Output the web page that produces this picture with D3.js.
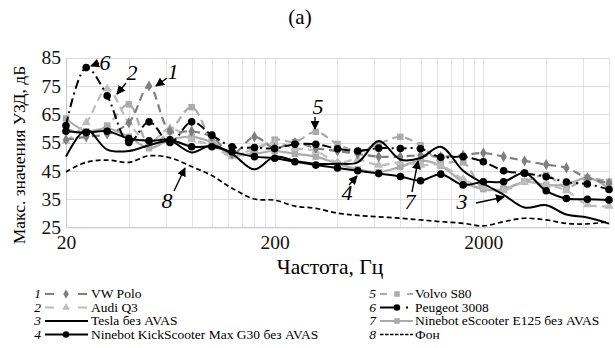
<!DOCTYPE html>
<html lang="ru">
<head>
<meta charset="UTF-8">
<title>Chart (a)</title>
<script src="https://d3js.org/d3.v7.min.js"></script>
<style>
  body { margin: 0; background: #fff; }
  svg text { font-family: "Liberation Serif", "DejaVu Serif", "Times New Roman", serif !important; }
</style>
</head>
<body>
<script>
// third-octave band centres, Hz
var freqs = [20, 25, 31.5, 40, 50, 63, 80, 100, 125, 160, 200, 250, 315, 400, 500,
             630, 800, 1000, 1250, 1600, 2000, 2500, 3150, 4000, 5000, 6300, 8000];

var vwPolo   = [56, 57, 58, 62, 75, 59, 59, 57, 51, 57, 53, 55, 53, 52, 51,
                50, 50, 50.5, 50, 50.5, 51.3, 50, 48.5, 47.2, 46, 42.5, 40.6];
var audiQ3   = [55.5, 62, 74, 62, 55, 60, 56, 54, 50, 53, 55, 53, 52, 48, 49,
                47, 48, 47, 47, 42, 39, 38, 41, 40, 38, 33, 32.5];
var tesla    = [50, 59.5, 52.5, 52, 54, 55.5, 51.5, 54, 51, 45.5, 50, 48.5, 47.5, 47.5, 48,
                55.5, 49, 49.5, 53.5, 45, 40.5, 36.5, 32, 32.8, 29.5, 28.5, 26.3];
var kickScooter = [59, 58.5, 59, 56.4, 55.6, 56, 53.5, 53.5, 51.7, 50, 49.4, 48.2, 47, 46, 45,
                44, 43, 41.5, 43.8, 40, 41.1, 41.1, 44.2, 37.9, 35.2, 34.9, 34.7];
var volvoS80 = [60, 58, 61, 68.5, 54.5, 59, 67.5, 56, 51, 52, 56, 55.2, 58.8, 54.5, 52,
                54.5, 57, 54, 48, 48, 38.7, 38.7, 41.1, 43.5, 39.1, 42.3, 41.1];
var peugeot  = [61, 81.5, 71.5, 55, 62.3, 55, 62.3, 57.6, 53.5, 53.2, 52.9, 54.4, 54.4, 52.8, 52,
                53, 52.9, 52.8, 49.8, 50, 48.2, 45, 44.1, 42.9, 41, 40.3, 38.4];
var e125     = [63.5, 59, 60, 57, 53, 56, 57, 55, 50.5, 51, 52, 51, 50, 47.5, 45.5,
                44.5, 46.4, 48.6, 46.8, 41, 38.5, 38.5, 41.1, 40, 40, 42.6, 38.8];
var fon      = [44.6, 48, 48.8, 48, 50.3, 49.6, 46.5, 43.3, 38.8, 35, 34.6, 32.5, 31.7, 30, 29.2,
                28.7, 28.2, 27.6, 27, 26.4, 25.5, 27, 28.2, 27.6, 26.4, 26.2, 27];

var yTicks = [25, 35, 45, 55, 65, 75, 85];
var xTicks = [20, 200, 2000];
var seriesNames = ["VW Polo", "Audi Q3", "Tesla без AVAS", "Ninebot KickScooter Max G30 без AVAS",
                   "Volvo S80", "Peugeot 3008", "Ninebot eScooter E125 без AVAS", "Фон"];

var w = 615, h = 348;
var plotL = 66, plotR = 609, plotT = 57.7, plotB = 227.3;
var serif = "Liberation Serif, DejaVu Serif, serif";

var svg = d3.select("body").append("svg")
    .attr("width", w)
    .attr("height", h)
    .attr("font-family", serif);

var defs = svg.append("defs");
defs.append("marker")
    .attr("id", "arr")
    .attr("viewBox", "0 0 10 10")
    .attr("refX", 9).attr("refY", 5)
    .attr("markerWidth", 9).attr("markerHeight", 9)
    .attr("markerUnits", "userSpaceOnUse")
    .attr("orient", "auto")
    .append("path").attr("d", "M0,0 L10,5 L0,10 Z").attr("fill", "#000");

var x = d3.scaleLog().domain([20, 8000]).range([plotL, plotR]);
var y = d3.scaleLinear().domain([25, 85]).range([plotB, plotT]);

// grid: Excel-style log minor lines
var minor = [];
[20, 200, 2000].forEach(function (b) {
    for (var k = 1; k <= 9; k++) {
        var v = b * k;
        if (v <= 8000) minor.push(v);
    }
});

svg.append("g").selectAll("line")
    .data(minor)
    .enter().append("line")
    .attr("x1", function (d) { return Math.round(x(d)) + 0.5; })
    .attr("x2", function (d) { return Math.round(x(d)) + 0.5; })
    .attr("y1", plotT).attr("y2", plotB)
    .attr("stroke", "#e3e3e3").attr("stroke-width", 1);

svg.append("g").selectAll("line")
    .data(yTicks)
    .enter().append("line")
    .attr("x1", plotL).attr("x2", plotR)
    .attr("y1", function (d) { return Math.round(y(d)) + 0.5; })
    .attr("y2", function (d) { return Math.round(y(d)) + 0.5; })
    .attr("stroke", "#dcdcdc").attr("stroke-width", 1);

// axes
var yAxis = d3.axisLeft(y).tickValues(yTicks).tickSize(0).tickPadding(5);
var gy = svg.append("g").attr("transform", "translate(" + plotL + ",0)").call(yAxis);
gy.attr("font-family", serif);
gy.select(".domain").attr("stroke", "#c8c8c8");
gy.selectAll("text").attr("font-size", "19.5px").attr("fill", "#111");

var xAxis = d3.axisBottom(x).tickValues(xTicks).tickFormat(d3.format("d")).tickSize(0).tickPadding(8);
var gx = svg.append("g").attr("transform", "translate(0," + plotB + ")").call(xAxis);
gx.attr("font-family", serif);
gx.select(".domain").attr("stroke", "#c8c8c8");
gx.selectAll("text").attr("font-size", "19.5px").attr("fill", "#111");

svg.append("text").text("(a)")
    .attr("x", 300).attr("y", 24)
    .attr("text-anchor", "middle").attr("font-size", "21px");

svg.append("text").text("Частота, Гц")
    .attr("x", 330).attr("y", 274)
    .attr("text-anchor", "middle").attr("font-size", "21.5px");

svg.append("text").text("Макс. значения УЗД, дБ")
    .attr("transform", "translate(25,155) rotate(-90)")
    .attr("text-anchor", "middle").attr("font-size", "17.5px");

// series styling
var styles = [
    { data: vwPolo, color: "#7f7f7f", dash: "8,5", width: 2.2, marker: "diamond" },
    { data: audiQ3, color: "#bdbdbd", dash: "8,5", width: 2.2, marker: "triangle" },
    { data: tesla, color: "#000", dash: null, width: 2, marker: null },
    { data: kickScooter, color: "#000", dash: null, width: 2, marker: "circle" },
    { data: volvoS80, color: "#ababab", dash: "8,5", width: 2.2, marker: "square" },
    { data: peugeot, color: "#000", dash: "9,4,2,4", width: 2, marker: "circle" },
    { data: e125, color: "#ababab", dash: null, width: 2.2, marker: "square" },
    { data: fon, color: "#000", dash: "5,3", width: 1.7, marker: null }
];

var line = d3.line()
    .x(function (d) { return x(d[0]); })
    .y(function (d) { return y(d[1]); })
    .curve(d3.curveCatmullRom.alpha(0.5));

var symbols = {
    diamond: d3.symbol().type(d3.symbolDiamond).size(36),
    triangle: d3.symbol().type(d3.symbolTriangle).size(36),
    square: d3.symbol().type(d3.symbolSquare).size(42),
    circle: d3.symbol().type(d3.symbolCircle).size(45)
};

var drawOrder = [7, 6, 4, 1, 0, 2, 3, 5];
drawOrder.forEach(function (i) {
    var s = styles[i];
    var pts = freqs.map(function (f, j) { return [f, s.data[j]]; });
    svg.append("path")
        .datum(pts)
        .attr("d", line)
        .attr("fill", "none")
        .attr("stroke", s.color)
        .attr("stroke-width", s.width)
        .attr("stroke-dasharray", s.dash);
    if (s.marker) {
        svg.append("g").selectAll("path")
            .data(pts)
            .enter().append("path")
            .attr("d", symbols[s.marker])
            .attr("transform", function (d) { return "translate(" + x(d[0]) + "," + y(d[1]) + ")"; })
            .attr("fill", s.color);
    }
});

// numbered callouts
var callouts = [
    { n: "1", tx: 173, ty: 79, x1: 167, y1: 78, x2: 156, y2: 86 },
    { n: "2", tx: 132, ty: 80, x1: 126, y1: 83, x2: 117, y2: 94 },
    { n: "6", tx: 105, ty: 70, x1: 99, y1: 63, x2: 91, y2: 66 },
    { n: "5", tx: 318, ty: 114, x1: 315, y1: 117, x2: 315, y2: 129 },
    { n: "8", tx: 167, ty: 208, x1: 174, y1: 191, x2: 185, y2: 168 },
    { n: "4", tx: 347, ty: 200, x1: 349, y1: 185, x2: 357, y2: 176 },
    { n: "7", tx: 410, ty: 209, x1: 412, y1: 192, x2: 418, y2: 161 },
    { n: "3", tx: 462, ty: 209, x1: 476, y1: 203, x2: 504, y2: 197 }
];
callouts.forEach(function (c) {
    svg.append("line")
        .attr("x1", c.x1).attr("y1", c.y1).attr("x2", c.x2).attr("y2", c.y2)
        .attr("stroke", "#000").attr("stroke-width", 1.4)
        .attr("marker-end", "url(#arr)");
    svg.append("text").text(c.n)
        .attr("x", c.tx).attr("y", c.ty)
        .attr("text-anchor", "middle")
        .attr("font-size", "22px").attr("font-style", "italic");
});

// legend
var legPos = [
    { nx: 41, sx: 45, ex: 88, mx: 66, lx: 91, y: 294 },
    { nx: 41, sx: 45, ex: 88, mx: 66, lx: 91, y: 307.5 },
    { nx: 41, sx: 45, ex: 88, mx: 66, lx: 91, y: 321 },
    { nx: 41, sx: 45, ex: 88, mx: 66, lx: 91, y: 334.5 },
    { nx: 376, sx: 380, ex: 413, mx: 397, lx: 415, y: 294 },
    { nx: 376, sx: 380, ex: 413, mx: 397, lx: 415, y: 307.5 },
    { nx: 376, sx: 380, ex: 413, mx: 397, lx: 415, y: 321 },
    { nx: 376, sx: 380, ex: 413, mx: 397, lx: 415, y: 334.5 }
];
var legDash = ["9,24", "9,24", null, null, "7,20", "20,6,2,30", null, "3.5,1.5"];

styles.forEach(function (s, i) {
    var p = legPos[i];
    var g = svg.append("g");
    g.append("text").text(i + 1)
        .attr("x", p.nx).attr("y", p.y + 4)
        .attr("text-anchor", "end")
        .attr("font-size", "13.5px").attr("font-style", "italic");
    g.append("line")
        .attr("x1", p.sx).attr("x2", p.ex)
        .attr("y1", p.y).attr("y2", p.y)
        .attr("stroke", s.color).attr("stroke-width", i == 7 ? 1.4 : 1.8)
        .attr("stroke-dasharray", legDash[i]);
    if (s.marker) {
        g.append("path")
            .attr("d", symbols[s.marker])
            .attr("transform", "translate(" + p.mx + "," + p.y + ") scale(0.85)")
            .attr("fill", s.color);
    }
    g.append("text").text(seriesNames[i])
        .attr("x", p.lx).attr("y", p.y + 4)
        .attr("font-size", "13.5px")
        .attr("textLength", null);
});
</script>
</body>
</html>
